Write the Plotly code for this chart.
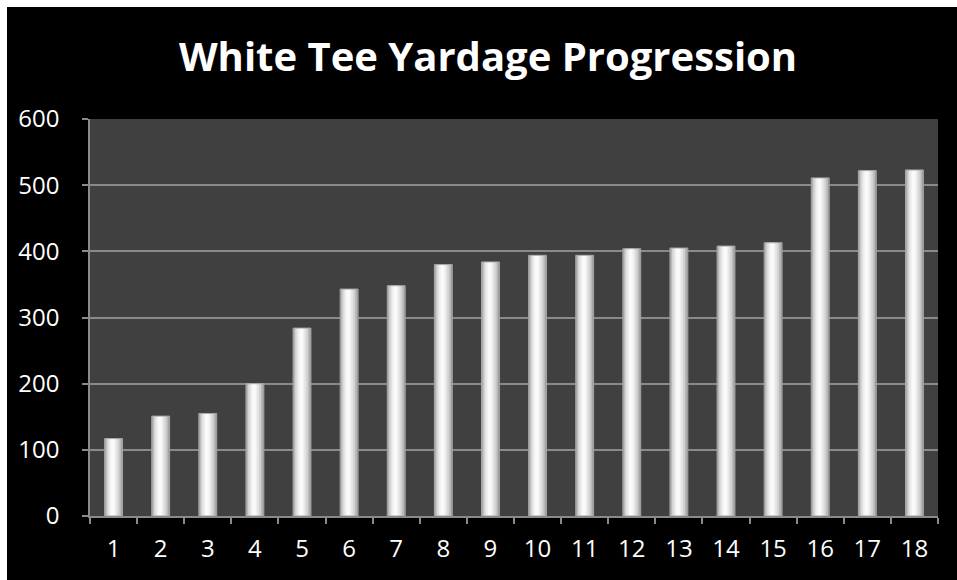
import plotly.graph_objects as go

holes = [str(i) for i in range(1, 19)]
yards = [117, 151, 155, 200, 284, 343, 348, 380, 384, 394, 394, 404, 405, 408, 413, 511, 522, 523]
y_ticks = [0, 100, 200, 300, 400, 500, 600]

fig = go.Figure()

# Layered bars of decreasing width give each column a rounded, glossy look
bar_width = 0.38
layers = [
    (1.00, 0.00, "#9a9a9a"),
    (0.88, -0.01, "#bababa"),
    (0.72, -0.025, "#d2d2d2"),
    (0.54, -0.04, "#e3e3e3"),
    (0.36, -0.05, "#f0f0f0"),
    (0.20, -0.05, "#fafafa"),
]
for frac, shift, color in layers:
    w = bar_width * frac
    fig.add_trace(go.Bar(
        x=holes, y=yards,
        width=w, offset=-w / 2 + shift * bar_width,
        marker=dict(color=color, line=dict(width=0)),
        showlegend=False, hoverinfo="skip" if frac < 1 else "x+y",
    ))

# thin outline around each column
fig.add_trace(go.Bar(
    x=holes, y=yards, width=bar_width, offset=-bar_width / 2,
    marker=dict(color="rgba(0,0,0,0)", line=dict(color="#a4a4a4", width=1)),
    showlegend=False, hoverinfo="skip",
))

L, R, T, B = 90, 19, 119, 64
W, H = 957, 580
pw, ph = W - L - R, H - T - B

fig.update_layout(
    width=W, height=H,
    margin=dict(l=L, r=R, t=T, b=B),
    barmode="overlay",
    paper_bgcolor="#000000",
    plot_bgcolor="#404040",
    title=dict(
        text="<b>White Tee Yardage Progression</b>",
        x=0.51, xanchor="center", y=0.902, yanchor="middle",
        font=dict(family="Open Sans", size=40, color="#ffffff"),
    ),
    font=dict(family="Open Sans", color="#ffffff", size=24),
    xaxis=dict(
        type="category",
        showgrid=False,
        showline=True, linecolor="#8a8a8a", linewidth=1.5,
        ticks="outside", tickson="boundaries", ticklen=6,
        tickcolor="#8a8a8a", tickwidth=1.5,
        tickfont=dict(size=24, color="#ffffff"),
        ticklabelstandoff=10,
    ),
    yaxis=dict(
        range=[0, 600], tickvals=y_ticks,
        showgrid=True, gridcolor="#8a8a8a", gridwidth=1.5,
        showline=True, linecolor="#8a8a8a", linewidth=1.5,
        ticks="outside", ticklen=6, tickcolor="#8a8a8a", tickwidth=1.5,
        tickfont=dict(size=24, color="#ffffff"),
        ticklabelstandoff=18,
        zeroline=False,
    ),
    shapes=[
        # white strips along the left and top edges of the page
        dict(type="rect", xref="paper", yref="paper",
             x0=-L / pw - 0.01, x1=(7 - L) / pw, y0=-B / ph - 0.01, y1=(H - B) / ph + 0.01,
             fillcolor="#ffffff", line=dict(width=0), layer="above"),
        dict(type="rect", xref="paper", yref="paper",
             x0=-L / pw - 0.01, x1=1 + R / pw + 0.01, y0=(H - B - 7) / ph, y1=(H - B) / ph + 0.01,
             fillcolor="#ffffff", line=dict(width=0), layer="above"),
    ],
)

fig.write_html("out.html")
